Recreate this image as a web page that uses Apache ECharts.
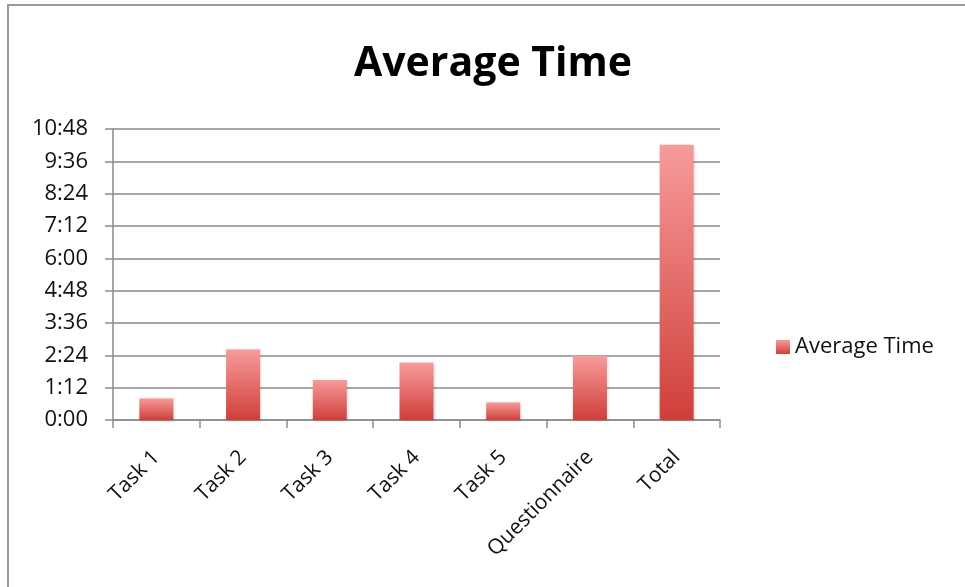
<!DOCTYPE html>
<html>
<head>
<meta charset="utf-8">
<script src="https://cdn.jsdelivr.net/npm/echarts@6/dist/echarts.min.js"></script>
<style>
  html, body { margin: 0; padding: 0; background: #fff; }
  #chart { width: 965px; height: 587px; }
</style>
</head>
<body>
<div id="chart"></div>
<script>
// Average time spent per step, in seconds
const categories = ['Task 1', 'Task 2', 'Task 3', 'Task 4', 'Task 5', 'Questionnaire', 'Total'];
const averageSeconds = [48, 157, 89, 128, 39, 143, 613];
const seriesName = 'Average Time';

// Axis range in seconds: 0:00 to 10:48 in steps of 1:12
const yMin = 0;
const yMax = 648;
const yStep = 72;

function toClock(sec) {
  const m = Math.floor(sec / 60);
  const s = Math.round(sec % 60);
  return m + ':' + (s < 10 ? '0' : '') + s;
}

const FONT = 'Open Sans';
const AXIS_GREY = '#8a8a8a';
const chart = echarts.init(document.getElementById('chart'), null, { renderer: 'canvas' });

chart.setOption({
  animation: false,
  backgroundColor: '#fff',
  title: {
    text: 'Average Time',
    left: 488,
    top: 39,
    textAlign: 'center',
    textStyle: { fontFamily: FONT, fontWeight: 'bold', fontSize: 41, color: '#000' }
  },
  legend: {
    left: 771,
    top: 331,
    itemWidth: 14,
    itemHeight: 14,
    itemGap: 8,
    icon: 'rect',
    textStyle: { fontFamily: FONT, fontSize: 22, color: '#111' },
    data: [seriesName]
  },
  grid: { left: 113, right: 245, top: 129, bottom: 167, containLabel: false },
  xAxis: {
    type: 'category',
    data: categories,
    axisLine: { lineStyle: { color: AXIS_GREY, width: 1.5 } },
    axisTick: { show: true, alignWithLabel: false, length: 8, lineStyle: { color: AXIS_GREY, width: 1.5 } },
    axisLabel: { rotate: 45, margin: 34, fontFamily: FONT, fontSize: 21, color: '#111', interval: 0 }
  },
  yAxis: {
    type: 'value',
    min: yMin,
    max: yMax,
    interval: yStep,
    axisLine: { show: true, lineStyle: { color: AXIS_GREY, width: 1.5 } },
    axisTick: { show: true, length: 8, lineStyle: { color: AXIS_GREY, width: 1.5 } },
    splitLine: { lineStyle: { color: AXIS_GREY, width: 1.5 } },
    axisLabel: { formatter: toClock, margin: 25, fontFamily: FONT, fontSize: 22, color: '#111' }
  },
  graphic: [
    {
      type: 'polyline',
      shape: { points: [[8, 587], [8, 5], [965, 5]] },
      style: { stroke: '#9a9a9a', lineWidth: 2, fill: null },
      silent: true
    }
  ],
  series: [{
    name: seriesName,
    type: 'bar',
    data: averageSeconds,
    barWidth: 34,
    itemStyle: {
      color: new echarts.graphic.LinearGradient(0, 0, 0, 1, [
        { offset: 0, color: '#f79b9b' },
        { offset: 1, color: '#cf3f3a' }
      ]),
      shadowColor: 'rgba(0,0,0,0.18)',
      shadowBlur: 3,
      shadowOffsetX: 1,
      shadowOffsetY: 1
    }
  }]
});
</script>
</body>
</html>
